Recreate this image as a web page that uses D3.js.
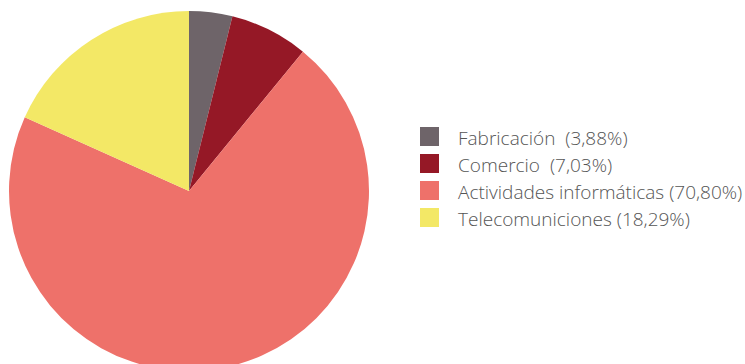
<!DOCTYPE html>
<html>
<head>
<meta charset="utf-8">
<script src="https://cdn.jsdelivr.net/npm/d3@7/dist/d3.min.js"></script>
<style>
  html, body { margin: 0; padding: 0; background: #fff; }
  svg { display: block; }
  text { font-family: "Open Sans", sans-serif; font-weight: 300; }
</style>
</head>
<body>
<svg id="chart" width="745" height="364"></svg>
<script>
// Sector shares (%)
const categories = ["Fabricación", "Comercio", "Actividades informáticas", "Telecomuniciones"];
const values = [3.88, 7.03, 70.80, 18.29];
const legendLabels = ["Fabricación  (3,88%)", "Comercio  (7,03%)", "Actividades informáticas (70,80%)", "Telecomuniciones (18,29%)"];
const colors = ["#6e6469", "#951826", "#ee716a", "#f3e866"];

const svg = d3.select("#chart");
const cx = 189, cy = 191, radius = 180;

const data = categories.map((c, i) => ({ name: c, value: values[i], label: legendLabels[i] }));
const color = d3.scaleOrdinal().domain(categories).range(colors);

const pie = d3.pie().value(d => d.value).sort(null);
const arc = d3.arc().innerRadius(0).outerRadius(radius);

svg.append("g")
  .attr("transform", `translate(${cx},${cy})`)
  .selectAll("path")
  .data(pie(data))
  .join("path")
  .attr("d", arc)
  .attr("fill", d => color(d.data.name));

// Legend
const legendY = d3.scaleBand().domain(categories).range([127, 235]).paddingInner(0);
const legend = svg.append("g");
const items = legend.selectAll("g").data(data).join("g")
  .attr("transform", d => `translate(420,${legendY(d.name)})`);
items.append("rect").attr("width", 19).attr("height", 19).attr("fill", d => color(d.name));
items.append("text")
  .attr("x", 38).attr("y", 17.5)
  .attr("font-size", 19)
  .attr("fill", "#555")
  .style("white-space", "pre")
  .text(d => d.label);
</script>
</body>
</html>
